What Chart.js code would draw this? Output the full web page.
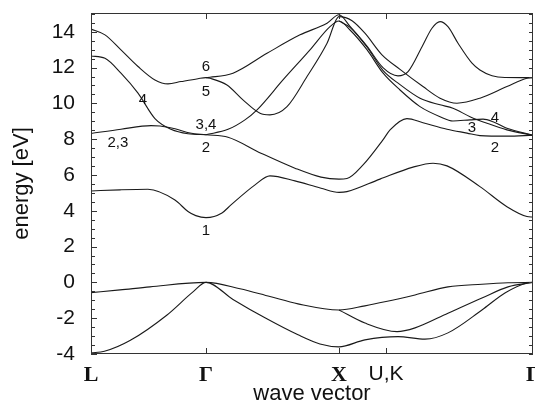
<!DOCTYPE html>
<html lang="en">
<head>
<meta charset="UTF-8">
<title>Band structure</title>
<script src="https://cdn.jsdelivr.net/npm/chart.js"></script>
<style>
  html, body { margin: 0; padding: 0; background: #fff; }
</style>
</head>
<body>
<canvas id="bands" width="535" height="410"></canvas>
<script>
// high symmetry points along the path
const kPos = [0, 0.856, 1.846, 2.196, 3.29];
const kLabels = ['L', 'Γ', 'X', 'U,K', 'Γ'];
const energyTicks = [-4, -2, 0, 2, 4, 6, 8, 10, 12, 14];

// valence bands [k, E]; degenerate stretches are drawn once, null = gap
const valence1 = [[0,-3.94],[0.1,-3.85],[0.29,-3.25],[0.566,-1.82],[0.759,-0.53],[0.856,0],[1.057,-0.95],[1.295,-1.98],[1.541,-2.93],[1.704,-3.44],[1.846,-3.6],[2.039,-3.21],[2.285,-3.03],[2.486,-3.17],[2.657,-2.82],[2.91,-1.54],[3.081,-0.59],[3.245,-0.03],[3.29,0]];
const valence2 = [[1.846,-1.54],[2.039,-2.27],[2.278,-2.75],[2.412,-2.54],[2.657,-1.72],[2.91,-0.87],[3.104,-0.25],[3.29,0]];
const valence3 = [[0,-0.57],[0.216,-0.42],[0.439,-0.25],[0.856,0],[1.109,-0.35],[1.332,-0.79],[1.541,-1.2],[1.846,-1.54],[2.039,-1.31],[2.196,-1.07],[2.412,-0.7],[2.657,-0.25],[2.91,-0.1],[3.104,-0.02],[3.29,0]];

// conduction bands [k, E]
const cond1 = [[0,5.11],[0.216,5.17],[0.424,5.2],[0.625,4.6],[0.722,3.96],[0.78,3.73],[0.856,3.62],[0.975,3.88],[1.042,4.33],[1.221,5.45],[1.332,5.95],[1.518,5.67],[1.712,5.26],[1.846,5.03],[1.905,5.07],[2.151,5.77],[2.397,6.44],[2.546,6.66],[2.65,6.51],[2.895,5.35],[3.096,4.23],[3.245,3.68],[3.29,3.65]];
const cond2 = [[0,8.32],[0.223,8.56],[0.447,8.76],[0.514,8.74],[0.625,8.58],[0.737,8.35],[0.856,8.25],[1.02,8.11],[1.265,7.22],[1.518,6.38],[1.712,5.88],[1.846,5.77],[1.905,5.8],[2.025,6.56],[2.173,7.96],[2.226,8.52],[2.352,9.15],[2.471,8.92],[2.65,8.56],[2.799,8.34],[2.895,8.2],[3.096,8.17],[3.29,8.22]];
const cond3 = [[0.856,8.25],[1.02,8.55],[1.146,9.08],[1.236,9.64],[1.429,11.31],[1.63,12.99],[1.779,14.29],[1.846,14.6],[1.928,14.1],[2.054,13.0],[2.173,11.7],[2.3,10.75],[2.449,9.82],[2.598,9.26],[2.694,9.02],[2.821,9.08],[2.918,9.12],[2.992,8.98],[3.096,8.61],[3.29,8.22]];
const cond4 = [[0,12.65],[0.104,12.52],[0.223,11.69],[0.35,10.57],[0.476,9.15],[0.595,8.55],[0.722,8.3],[0.856,8.25],[1.3,null],[1.846,14.6],[1.928,14.25],[2.054,13.15],[2.173,11.85],[2.3,11.05],[2.449,10.29],[2.598,9.92],[2.694,9.73],[2.821,9.26],[2.948,8.89],[3.096,8.52],[3.29,8.22]];
const cond5 = [[0,14.15],[0.104,13.83],[0.223,12.99],[0.35,12.06],[0.476,11.31],[0.573,11.09],[0.67,11.22],[0.796,11.38],[0.856,11.44],[0.886,11.4],[1.012,11.03],[1.131,10.2],[1.258,9.45],[1.332,9.36],[1.459,9.82],[1.608,11.5],[1.757,13.36],[1.846,14.85],[1.943,14.62],[2.039,13.92],[2.166,12.71],[2.3,11.9],[2.471,10.94],[2.598,10.29],[2.724,10.01],[2.895,10.29],[3.096,10.94],[3.245,11.4],[3.29,11.44]];
const cond6 = [[0.856,11.44],[0.886,11.46],[1.057,11.69],[1.31,12.8],[1.556,13.83],[1.757,14.48],[1.846,14.95],[1.928,14.3],[2.054,13.2],[2.173,12.0],[2.285,11.54],[2.36,11.78],[2.464,13.17],[2.538,14.2],[2.598,14.57],[2.657,14.29],[2.732,13.36],[2.836,12.25],[2.895,11.87],[2.985,11.55],[3.081,11.45],[3.29,11.44]];

// band index labels [text, k, E]
const bandTags = [['6',0.856,12.04],['5',0.856,10.64],['4',0.387,10.2],['2,3',0.2,7.8],['3,4',0.856,8.8],['2',0.856,7.51],['1',0.856,2.88],['4',3.007,9.19],['3',2.836,8.63],['2',3.007,7.51]];

const sans = 'Liberation Sans, Arial, Helvetica, sans-serif';
const serif = 'Liberation Serif, Times New Roman, serif';

const allBands = [valence1, valence2, valence3, cond1, cond2, cond3, cond4, cond5, cond6];

// frame, inward ticks and band labels
const frameAndTicks = {
    id: 'frameAndTicks',
    afterDraw(chart) {
        const {ctx, chartArea: a, scales: {x, y}} = chart;
        ctx.save();
        ctx.strokeStyle = '#333';
        ctx.lineWidth = 1;
        ctx.strokeRect(a.left + 0.5, a.top + 0.5, a.right - a.left - 1, a.bottom - a.top - 1);

        ctx.beginPath();
        for (let e = -4; e <= 15; e += 0.5) {
            const py = Math.round(y.getPixelForValue(e)) + 0.5;
            const len = energyTicks.includes(e) ? 6 : 4;
            ctx.moveTo(a.left, py); ctx.lineTo(a.left + len, py);
            ctx.moveTo(a.right, py); ctx.lineTo(a.right - 4, py);
        }
        kPos.slice(1, 4).forEach(k => {
            const px = Math.round(x.getPixelForValue(k)) + 0.5;
            ctx.moveTo(px, a.bottom); ctx.lineTo(px, a.bottom - 6);
            ctx.moveTo(px, a.top); ctx.lineTo(px, a.top + 6);
        });
        ctx.stroke();

        ctx.fillStyle = '#111';
        ctx.font = '15px ' + sans;
        ctx.textAlign = 'center';
        ctx.textBaseline = 'middle';
        bandTags.forEach(([t, k, e]) => {
            ctx.fillText(t, x.getPixelForValue(k), y.getPixelForValue(e));
        });
        ctx.restore();
    }
};

new Chart(document.getElementById('bands'), {
    type: 'line',
    data: {
        datasets: allBands.map(b => ({
            data: b.map(([k, e]) => ({x: k, y: e})),
            borderColor: '#1a1a1a',
            borderWidth: 1.1,
            pointRadius: 0,
            fill: false,
            spanGaps: false,
            cubicInterpolationMode: 'monotone'
        }))
    },
    options: {
        responsive: false,
        animation: false,
        layout: {padding: {top: 13, right: 2, left: 0, bottom: 0}},
        plugins: {legend: {display: false}, tooltip: {enabled: false}},
        scales: {
            x: {
                type: 'linear',
                min: 0,
                max: 3.29,
                afterBuildTicks: s => { s.ticks = kPos.map(v => ({value: v})); },
                afterFit: s => { s.height = 56; s.paddingLeft = 0; s.paddingRight = 0; },
                grid: {display: false, drawTicks: false},
                border: {display: false},
                ticks: {
                    autoSkip: false,
                    maxRotation: 0,
                    padding: 8,
                    color: '#111',
                    font: c => c.index === 3 ? {family: sans, size: 21} : {family: serif, size: 22, weight: 'bold'},
                    callback: (v, i) => kLabels[i]
                },
                title: {display: true, text: 'wave vector', color: '#111', font: {family: sans, size: 22}, padding: {top: 3, bottom: 3}}
            },
            y: {
                min: -4,
                max: 15.05,
                afterBuildTicks: s => { s.ticks = energyTicks.map(v => ({value: v})); },
                afterFit: s => { s.width = 91; s.paddingTop = 0; s.paddingBottom = 0; },
                grid: {display: false, drawTicks: false},
                border: {display: false},
                ticks: {padding: 16, color: '#111', font: {family: sans, size: 21}},
                title: {display: true, text: 'energy [eV]', color: '#111', font: {family: sans, size: 22}, padding: {top: 9, bottom: 9}}
            }
        }
    },
    plugins: [frameAndTicks]
});
</script>
</body>
</html>
